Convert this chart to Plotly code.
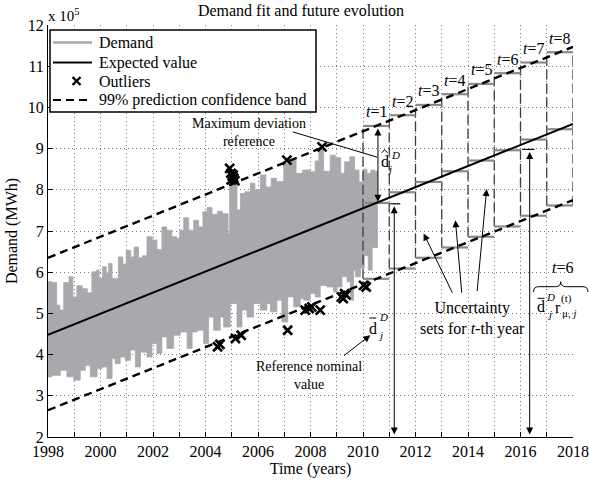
import plotly.graph_objects as go

FONT = "Liberation Serif"

# ---------------- data (values in units of 1e5 MWh) ----------------
demand_upper_years = [1998.00, 1998.15, 1998.33, 1998.45, 1998.60, 1998.80, 1998.95, 1999.10, 1999.30, 1999.50,
                      1999.67, 1999.85, 1999.95, 2000.08, 2000.22, 2000.31, 2000.44, 2000.68, 2000.85, 2000.98,
                      2001.15, 2001.28, 2001.45, 2001.60, 2001.77, 2001.97, 2002.15, 2002.34, 2002.52, 2002.72,
                      2002.90, 2003.02, 2003.17, 2003.36, 2003.55, 2003.74, 2003.90, 2004.06, 2004.25, 2004.45,
                      2004.65, 2004.86, 2004.92, 2005.05, 2005.20, 2005.33, 2005.50, 2005.71, 2005.88, 2006.09,
                      2006.30, 2006.50, 2006.70, 2006.98, 2007.23, 2007.45, 2007.70, 2007.99, 2008.18, 2008.32,
                      2008.50, 2008.75, 2008.95, 2009.15, 2009.30, 2009.50, 2009.68, 2009.85, 2010.00, 2010.15,
                      2010.30, 2010.45, 2010.55]
demand_upper = [5.77, 5.75, 5.20, 5.08, 5.75, 5.89, 5.40, 5.67, 5.60, 5.50,
                6.01, 6.05, 5.85, 6.13, 5.98, 6.21, 5.85, 6.37, 6.20, 6.53,
                6.37, 6.61, 6.35, 6.40, 6.86, 6.78, 6.55, 7.10, 7.02, 6.86,
                6.82, 7.02, 7.32, 7.02, 7.26, 7.10, 7.47, 7.57, 7.40, 7.48,
                7.42, 6.94, 8.32, 8.15, 7.51, 7.91, 7.95, 8.16, 8.00, 8.36,
                8.07, 8.28, 8.20, 8.64, 8.72, 8.40, 8.48, 8.44, 8.70, 9.00,
                8.45, 8.84, 8.78, 8.40, 8.68, 8.80, 8.48, 8.19, 8.50, 8.40,
                8.48, 8.45, 8.45]
demand_lower_years = [1998.00, 1998.15, 1998.47, 1998.72, 1998.98, 1999.23, 1999.42, 1999.61, 1999.87, 2000.06,
                      2000.25, 2000.44, 2000.56, 2000.75, 2000.94, 2001.14, 2001.33, 2001.52, 2001.77, 2001.96,
                      2002.15, 2002.34, 2002.53, 2002.79, 2003.04, 2003.30, 2003.49, 2003.68, 2003.93, 2004.12,
                      2004.31, 2004.56, 2004.69, 2004.94, 2005.20, 2005.39, 2005.58, 2005.83, 2006.09, 2006.34,
                      2006.47, 2006.72, 2006.91, 2007.13, 2007.36, 2007.61, 2007.74, 2007.99, 2008.18, 2008.37,
                      2008.63, 2008.88, 2009.01, 2009.20, 2009.39, 2009.52, 2009.64, 2009.71, 2009.90, 2010.05,
                      2010.20, 2010.35, 2010.55]
demand_lower = [3.58, 3.46, 3.50, 3.62, 3.46, 3.38, 3.62, 3.74, 3.46, 3.66,
                3.70, 3.42, 3.90, 3.78, 3.94, 3.86, 4.11, 3.70, 4.06, 3.94,
                4.27, 4.03, 4.43, 4.15, 4.47, 4.55, 4.15, 4.55, 4.59, 4.27,
                4.91, 4.59, 4.91, 4.67, 5.24, 4.67, 5.08, 4.91, 5.24, 5.08,
                5.24, 5.04, 5.32, 4.79, 5.40, 5.16, 5.36, 5.32, 5.48, 5.40,
                5.68, 5.64, 5.52, 5.64, 5.89, 5.77, 5.32, 6.05, 5.89, 6.10,
                6.40, 6.05, 6.60]

fit_years = [1998, 2018]
expected_value = [4.48, 9.60]
band_upper = [6.35, 11.47]
band_lower = [2.65, 7.75]

outlier_years = [2004.92, 2004.97, 2005.02, 2005.08, 2004.98, 2005.12, 2005.05, 2007.10, 2008.44,
                 2004.46, 2004.55, 2005.14, 2005.36, 2007.13, 2007.80, 2007.95, 2008.05, 2008.37,
                 2009.18, 2009.25, 2009.30, 2009.35, 2010.02, 2010.12]
outlier_values = [8.52, 8.40, 8.33, 8.28, 8.24, 8.22, 8.36, 8.72, 9.04,
                  4.19, 4.25, 4.39, 4.47, 4.59, 5.08, 5.12, 5.16, 5.08,
                  5.40, 5.36, 5.48, 5.45, 5.68, 5.64]

box_bounds = [2010, 2011, 2012, 2013, 2014, 2015, 2016, 2017, 2018]
box_labels = ["1", "2", "3", "4", "5", "6", "7", "8"]
box_upper = [9.55, 9.81, 10.06, 10.32, 10.57, 10.83, 11.09, 11.34]
box_mid = [7.68, 7.94, 8.19, 8.45, 8.71, 8.96, 9.22, 9.47]
box_lower = [5.84, 6.09, 6.35, 6.60, 6.86, 7.11, 7.37, 7.62]

x_ticks = [1998, 2000, 2002, 2004, 2006, 2008, 2010, 2012, 2014, 2016, 2018]
y_ticks = [2, 3, 4, 5, 6, 7, 8, 9, 10, 11, 12]

# ---------------- geometry helpers (pixel -> paper) ----------------
W, H = 589, 483
ML, MR, MT, MB = 48, 16, 25, 46
PW, PH = W - ML - MR, H - MT - MB


def xp(px):
    return (px - ML) / PW


def yp(py):
    return (H - MB - py) / PH


fig = go.Figure()

# demand (filled envelope of the daily series)
fig.add_trace(go.Scatter(
    x=demand_upper_years + demand_lower_years[::-1],
    y=demand_upper + demand_lower[::-1],
    mode="lines", fill="toself", fillcolor="#a9a9ad", line_shape="hv",
    line=dict(color="#a9a9ad", width=0.8), hoverinfo="skip", showlegend=False))

# uncertainty-set vertical dashed sides
vx, vy = [], []
for i in range(len(box_upper)):
    vx += [box_bounds[i], box_bounds[i], None]
    vy += [box_lower[i], box_upper[i], None]
vx += [box_bounds[-1], box_bounds[-1]]
vy += [box_lower[-1], box_upper[-1]]
fig.add_trace(go.Scatter(x=vx, y=vy, mode="lines",
                         line=dict(color="#3c3c3c", width=1.3, dash="10px,4px"),
                         hoverinfo="skip", showlegend=False, connectgaps=False))

# gray horizontal segments (upper, nominal, lower) per year
sx, sy = [], []
for arr in (box_upper, box_mid, box_lower):
    for i in range(len(arr)):
        sx += [box_bounds[i], box_bounds[i + 1], None]
        sy += [arr[i], arr[i], None]
fig.add_trace(go.Scatter(x=sx, y=sy, mode="lines",
                         line=dict(color="#8a8a8a", width=2.2),
                         hoverinfo="skip", showlegend=False, connectgaps=False))

# confidence band
for yy in (band_upper, band_lower):
    fig.add_trace(go.Scatter(x=fit_years, y=yy, mode="lines",
                             line=dict(color="black", width=2.4, dash="8px,5px"),
                             name="99% prediction confidence band", showlegend=False))

# expected value
fig.add_trace(go.Scatter(x=fit_years, y=expected_value, mode="lines",
                         line=dict(color="black", width=2.0), name="Expected value", showlegend=False))

# outliers
fig.add_trace(go.Scatter(x=outlier_years, y=outlier_values, mode="markers", name="Outliers",
                         marker=dict(symbol="x-thin", size=9, line=dict(color="black", width=2.6)),
                         showlegend=False, cliponaxis=False))

shapes = []
annotations = []


def txt(px, py, text, size=16, xanchor="center", italic=False):
    if italic:
        text = "<i>" + text + "</i>"
    annotations.append(dict(x=xp(px), y=yp(py), xref="paper", yref="paper", text=text,
                            showarrow=False, xanchor=xanchor, yanchor="middle",
                            font=dict(family=FONT, size=size, color="black")))


def pline(x0, y0, x1, y1, color="black", width=1.0, dash=None):
    ln = dict(color=color, width=width)
    if dash:
        ln["dash"] = dash
    shapes.append(dict(type="line", xref="paper", yref="paper",
                       x0=xp(x0), y0=yp(y0), x1=xp(x1), y1=yp(y1), line=ln, layer="above"))


def arrow(x, y, ax, ay, both=False, head=2, width=1.0, size=1.4):
    a = dict(x=x, y=y, ax=ax, ay=ay, xref="x", yref="y", axref="x", ayref="y", text=" ",
             showarrow=True, arrowhead=head, arrowsize=size, arrowwidth=width, arrowcolor="black",
             arrowside="end+start" if both else "end", font=dict(size=2))
    if both:
        a.update(startarrowhead=head, startarrowsize=size)
    annotations.append(a)


# t = k labels
for i, lab in enumerate(box_labels):
    annotations.append(dict(x=(box_bounds[i] + box_bounds[i + 1]) / 2, y=box_upper[i], xref="x", yref="y",
                            text="<i>t</i>=" + lab, showarrow=False, yanchor="middle", yshift=14,
                            font=dict(family=FONT, size=16, color="black")))

# arrows
arrow(2010.57, 7.71, 2010.57, box_upper[0], both=True)                 # max deviation
arrow(2011.19, 7.60, 2011.19, 2.0, both=True)                          # nominal t=1
arrow(2016.35, 8.92, 2016.35, 2.0, both=True)                          # nominal t=6
shapes.append(dict(type="line", xref="x", yref="y", x0=2011.04, x1=2011.42, y0=7.66, y1=7.66,
                   line=dict(color="black", width=1.2)))
shapes.append(dict(type="line", xref="x", yref="y", x0=2016.06, x1=2016.53, y0=8.98, y1=8.98,
                   line=dict(color="black", width=1.2)))
arrow(2010.55, 8.79, 2007.25, 9.42, head=0)                            # line to d-hat
arrow(2010.28, 4.47, 2009.20, 3.94)                                    # nominal reference
arrow(2012.31, 6.94, 2013.45, 5.44)                                    # uncertainty sets
arrow(2013.52, 7.26, 2013.77, 5.44)
arrow(2014.71, 8.02, 2014.34, 5.48)

# text blocks
annotations.append(dict(x=2005.64, y=9.40, xref="x", yref="y", text="Maximum deviation<br>reference",
                        showarrow=False, font=dict(family=FONT, size=14, color="black")))
annotations.append(dict(x=2007.96, y=3.50, xref="x", yref="y", text="Reference nominal<br>value",
                        showarrow=False, font=dict(family=FONT, size=14, color="black")))
annotations.append(dict(x=2014.18, y=4.88, xref="x", yref="y", text="Uncertainty<br>sets for <i>t</i>-th year",
                        showarrow=False, font=dict(family=FONT, size=16, color="black")))

# d-hat label
txt(384.5, 161.5, "d")
shapes.append(dict(type="path", xref="paper", yref="paper",
                   path=f"M {xp(381.8)},{yp(152.8)} L {xp(384.6)},{yp(149.6)} L {xp(387.4)},{yp(152.8)}",
                   line=dict(color="black", width=1)))
txt(395, 155, "D", size=11, italic=True)
txt(389, 168.5, "j", size=11, italic=True)

# d-bar label
txt(372.5, 328, "d")
pline(369.3, 318, 376.3, 318)
txt(383, 316.5, "D", size=11, italic=True)
txt(380.5, 334.5, "j", size=11, italic=True)

# right-side brace label
txt(562.5, 267, "<i>t</i>=6")
shapes.append(dict(type="path", xref="paper", yref="paper",
                   path=(f"M {xp(533.5)},{yp(292)} Q {xp(533.5)},{yp(286.7)} {xp(538.5)},{yp(286.7)} "
                         f"L {xp(555.5)},{yp(286.7)} Q {xp(560.7)},{yp(286.7)} {xp(560.7)},{yp(281.7)} "
                         f"Q {xp(560.7)},{yp(286.7)} {xp(565.9)},{yp(286.7)} L {xp(583)},{yp(286.7)} "
                         f"Q {xp(588)},{yp(286.7)} {xp(588)},{yp(292)}"),
                   line=dict(color="black", width=1)))
txt(541, 306.5, "d")
pline(537.6, 298.3, 544.4, 298.3)
txt(550.5, 296.5, "D", size=11, italic=True)
txt(549, 313.5, "j", size=11, italic=True)
txt(558, 307.5, "r")
txt(566, 298.5, "(t)", size=11)
txt(569, 313, "μ, <i>j</i>", size=11)

# x 10^5
txt(46, 14.5, "x 10<sup>5</sup>", size=15, xanchor="left")

# ---------------- manual legend ----------------
shapes.append(dict(type="rect", xref="paper", yref="paper", x0=xp(50), x1=xp(316), y0=yp(112), y1=yp(30),
                   line=dict(color="black", width=1.5), fillcolor="white", layer="above"))
rows = [42.5, 62.5, 81, 100]
pline(53, rows[0], 92, rows[0], color="#a9a9ad", width=2.6)
pline(53, rows[1], 92, rows[1], color="black", width=2.2)
pline(72.5, rows[2] - 4, 80.5, rows[2] + 4, width=2.4)
pline(72.5, rows[2] + 4, 80.5, rows[2] - 4, width=2.4)
pline(53, rows[3], 92, rows[3], width=2.2, dash="8px,5px")
legend_texts = ["Demand", "Expected value", "Outliers", "99% prediction confidence band"]
for r, t in zip(rows, legend_texts):
    txt(96.5, r, t, size=16, xanchor="left")

grid = dict(gridcolor="#7a7a7a", gridwidth=1, griddash="1px,3px")

fig.update_layout(
    template="none",
    width=W, height=H,
    margin=dict(l=ML, r=MR, t=MT, b=MB, autoexpand=False),
    paper_bgcolor="white", plot_bgcolor="white",
    font=dict(family=FONT, size=16, color="black"),
    showlegend=False,
    title=dict(text="Demand fit and future evolution", x=301 / W, xanchor="center",
               y=1 - 10 / H, yanchor="middle", automargin=False,
               font=dict(family=FONT, size=16, color="black")),
    xaxis=dict(range=[1998, 2018], tickvals=x_ticks, ticktext=[str(v) for v in x_ticks],
               automargin=False,
               ticks="inside", ticklen=5, tickcolor="black", showline=True, linecolor="black",
               linewidth=1, zeroline=False, showgrid=True, **grid,
               minor=dict(dtick=1, tick0=1998, ticks="inside", ticklen=5, tickcolor="black",
                          showgrid=True, **grid),
               tickfont=dict(family=FONT, size=16, color="black"),
               title=dict(text="Time (years)", font=dict(family=FONT, size=16, color="black"), standoff=2)),
    yaxis=dict(range=[2, 12], tickvals=y_ticks, ticktext=[str(v) for v in y_ticks],
               automargin=False,
               ticks="inside", ticklen=5, tickcolor="black", showline=True, linecolor="black",
               linewidth=1, zeroline=False, showgrid=True, **grid,
               tickfont=dict(family=FONT, size=16, color="black"),
               title=dict(text="Demand (MWh)", font=dict(family=FONT, size=16, color="black"), standoff=6)),
    shapes=shapes, annotations=annotations,
)

# remove the browser's default 8px page margin so the figure sits at the window origin
fig.write_html("out.html", config={"displayModeBar": False},
               post_script="document.body.style.margin='0px';document.body.style.overflow='hidden';")
